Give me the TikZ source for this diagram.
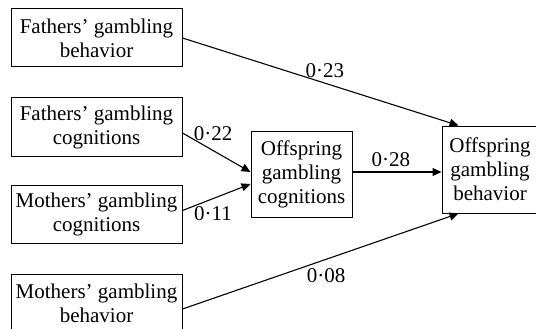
\documentclass[tikz,border=0pt]{standalone}
\usepackage{fontspec}
\setmainfont{Liberation Serif}
\usetikzlibrary{arrows.meta, positioning}

\begin{document}
\begin{tikzpicture}[
    x=1pt, y=-1pt,
    >={Triangle[length=9pt,width=8pt]},
    box/.style={rectangle, draw=black, line width=1pt, fill=white, align=center, inner sep=2pt, font=\fontsize{21}{24}\selectfont},
    parent/.style={box, minimum width=171pt, minimum height=58pt},
    arrow/.style={->, line width=1.1pt, draw=black},
    coef/.style={font=\fontsize{21}{24}\selectfont, inner sep=3pt}
]
\useasboundingbox (0,0) rectangle (536,329);

% Parents
\node[parent] (FathBeh) at (96.5, 38) {Fathers' gambling\\behavior};
\node[parent] (FathCog) at (96.5, 127) {Fathers' gambling\\cognitions};
\node[parent] (MothCog) at (96.5, 214.5) {Mothers' gambling\\cognitions};
\node[parent] (MothBeh) at (96.5, 303) {Mothers' gambling\\behavior};

% Offspring
\node[box, minimum width=101pt, minimum height=86pt] (OffCog) at (301.5, 174) {Offspring\\gambling\\cognitions};
\node[box, minimum width=96pt, minimum height=87pt] (OffBeh) at (490, 169.5) {Offspring\\gambling\\behavior};

% Paths
\draw[arrow] (FathBeh.east) -- ([xshift=17pt]OffBeh.north west) node[coef, pos=0.516, above=2pt] {0·23};
\draw[arrow] ([yshift=-6pt]FathCog.east) -- ([yshift=2pt]OffCog.west) node[coef, pos=0.45, above=6pt] {0·22};
\draw[arrow] ([yshift=4pt]MothCog.east) -- ([yshift=-10pt]OffCog.west) node[coef, pos=0.45, below=4pt] {0·11};
\draw[arrow] ([yshift=2pt]OffCog.east) -- ([yshift=2pt]OffCog.east -| OffBeh.west) node[coef, pos=0.43, above=2pt] {0·28};
\draw[arrow] ([yshift=-6pt]MothBeh.east) -- ([xshift=17pt]OffBeh.south west) node[coef, pos=0.52, below=6pt] {0·08};

\end{tikzpicture}
\end{document}
